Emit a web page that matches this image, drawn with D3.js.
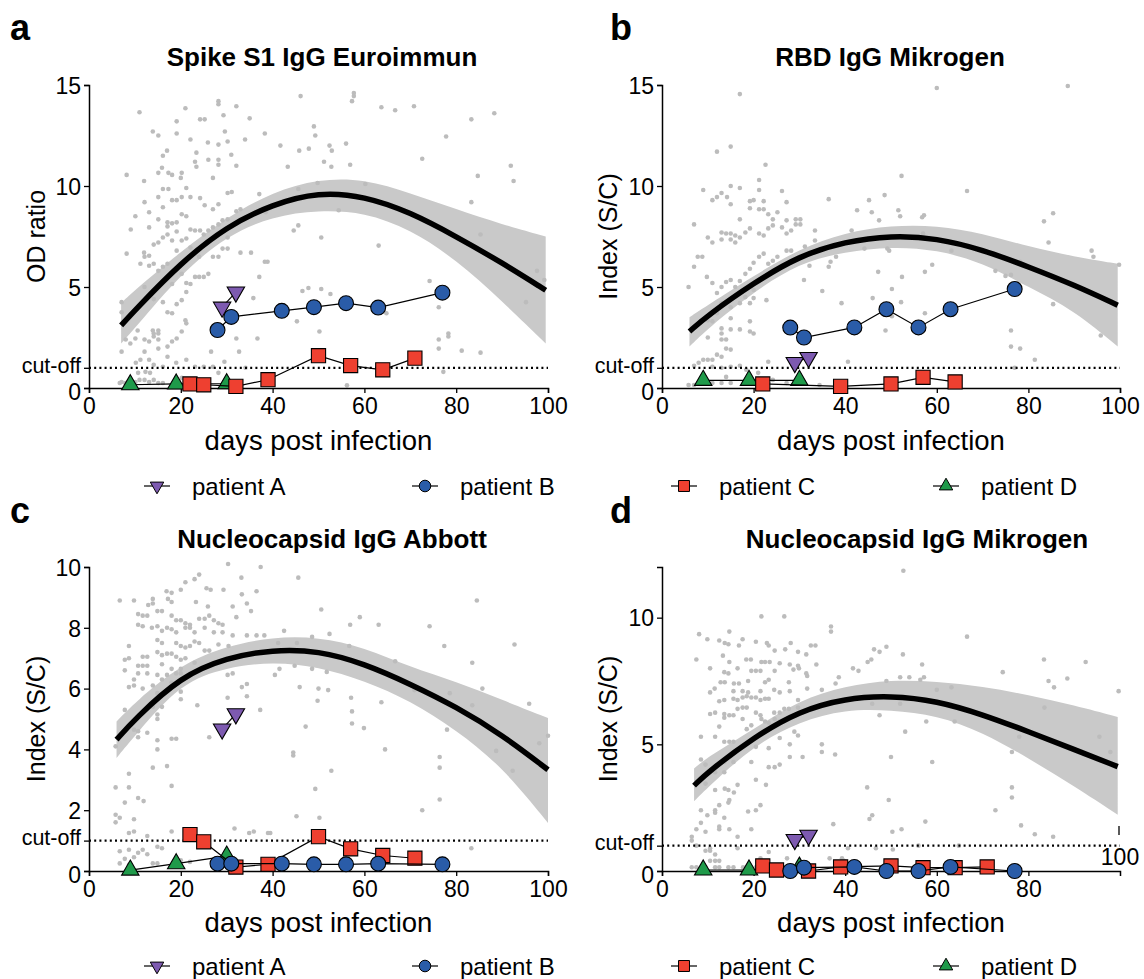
<!DOCTYPE html>
<html><head><meta charset="utf-8">
<script src="https://cdn.jsdelivr.net/npm/d3@7"></script>
<style>body{margin:0;background:#fff}svg{display:block;font-family:"Liberation Sans",Arial,sans-serif}</style>
</head><body><svg id="c" width="1144" height="979"></svg>
<script>
// ---------------- DATA ----------------
const panelLetters = ["a","b","c","d"];
const panelTitles = ["Spike S1 IgG Euroimmun","RBD IgG Mikrogen","Nucleocapsid IgG Abbott","Nucleocapsid IgG Mikrogen"];
const yLabels = ["OD ratio","Index (S/C)","Index (S/C)","Index (S/C)"];
const xLabel = "days post infection";
const cutoffLabel = "cut-off";
const cutoffValues = [1.0, 1.0, 1.0, 1.0];
const yMax = [15, 15, 10, 12];
const yTicks = [[0,5,10,15],[0,5,10,15],[0,2,4,6,8,10],[0,5,10]];
const xTicksFull = [0,20,40,60,80,100];
const xTicksD = [0,20,40,60,80];
const patientNames = ["patient A","patient B","patient C","patient D"];

// fitted curve and confidence band
const fitDaysA = [7,10,20,30,40,50,60,70,80,90,99.5];
const fitA  = [3.1,3.85,6.2,8.0,9.1,9.7,9.5,8.7,7.5,6.2,4.84];
const upperA= [4.2,4.85,6.75,8.45,9.7,10.35,10.35,9.65,8.85,8.1,7.5];
const lowerA= [2.2,2.95,5.65,7.55,8.5,8.8,8.7,7.85,6.35,4.3,2.2];
const fitDaysB = [6,10,20,30,40,50,60,70,80,90,99.5];
const fitB  = [2.8,3.6,5.2,6.55,7.25,7.55,7.42,6.85,6.0,5.1,4.1];
const upperB= [3.5,4.1,5.55,6.9,7.7,8.05,8.05,7.65,7.0,6.5,6.15];
const lowerB= [2.05,2.95,4.75,6.2,6.75,7.0,6.85,6.2,5.0,3.85,2.05];
const fitDaysC = [6,10,20,30,40,50,60,70,80,90,100];
const fitC  = [4.32,5.0,6.4,7.02,7.28,7.25,6.82,6.15,5.4,4.48,3.33];
const upperC= [4.92,5.55,6.8,7.4,7.7,7.7,7.36,6.7,6.23,5.63,5.03];
const lowerC= [3.72,4.45,6.2,6.7,6.88,6.72,6.26,5.6,4.64,3.44,1.58];
const fitDaysD = [7,10,20,30,40,50,60,70,80,90,99.5];
const fitD  = [3.37,3.9,5.28,6.32,6.82,6.92,6.72,6.18,5.5,4.8,4.12];
const upperD= [4.05,4.5,5.6,6.75,7.3,7.55,7.48,7.28,6.95,6.54,6.08];
const lowerD= [2.75,3.3,4.95,5.9,6.38,6.35,6.15,5.48,4.45,3.35,2.22];

// patients [day, value]
const patAa = [[29,4.0],[32,4.75]];
const patBa = [[28,2.87],[31,3.52],[42,3.82],[49,4.0],[56,4.2],[63,3.98],[77,4.72]];
const patCa = [[22,0.2],[25,0.16],[32,0.08],[39,0.41],[50,1.6],[57,1.11],[64,0.9],[71,1.48]];
const patDa = [[9,0.16],[19,0.2],[30,0.21]];
const patAb = [[29,1.26],[32,1.51]];
const patBb = [[28,2.99],[31,2.5],[42,3.0],[49,3.9],[56,3.0],[63,3.9],[77,4.9]];
const patCb = [[22,0.2],[39,0.08],[50,0.2],[57,0.53],[64,0.3]];
const patDb = [[9,0.38],[19,0.38],[30,0.38]];
const patAc = [[29,4.67],[32,5.17]];
const patBc = [[28,0.24],[31,0.24],[42,0.24],[49,0.22],[56,0.22],[63,0.24],[77,0.22]];
const patCc = [[22,1.2],[25,0.96],[32,0.13],[39,0.22],[50,1.13],[57,0.73],[64,0.51],[71,0.42]];
const patDc = [[9,0.03],[19,0.24],[30,0.49]];
const patAd = [[29,1.24],[32,1.41]];
const patBd = [[28,0.0],[31,0.13],[42,0.16],[49,0.0],[56,0.0],[63,0.16],[77,0.0]];
const patCd = [[22,0.2],[25,0.04],[32,0.0],[39,0.16],[50,0.2],[57,0.13],[64,0.13],[71,0.16]];
const patDd = [[9,0.04],[19,0.04],[30,0.15]];

// grey individual measurements [day, value]
const dotsA = [[11,13.65],[13.9,12.7],[15.1,12.5],[16.1,11.5],[17,11.75],[15.9,10.9],[15.1,10.65],[17.3,10.65],[18.1,10.55],[20.2,10.65],[19.1,13.2],[19.1,12.6],[21,13.85],[22.1,12.3],[24.2,13.3],[25.2,13.3],[28.2,14.2],[28.2,14.05],[29.3,13.5],[32.1,13.95],[29.6,12.7],[30.2,12.2],[28.2,12.05],[25.9,12.15],[23.4,11.65],[23.1,11.2],[23.4,10.95],[26,11.3],[28.2,11.3],[31,11.55],[32.1,11],[35,13.35],[34,12.3],[38.3,12.6],[41.7,12],[45.8,11.75],[47.9,11.85],[49,12.95],[49.3,12.5],[46.1,14.45],[52.4,12],[52.9,11.75],[56,12.1],[51.2,11.2],[52.8,10.95],[56.9,11.05],[57.3,14.2],[57.7,14.6],[57.7,14.45],[63.7,13.9],[66.7,13.75],[70.8,13.95],[72.6,11.35],[77.8,12.45],[83.3,13.3],[88.3,13.6],[91.9,11],[92.5,10.25],[84.7,10.5],[83.3,9.2],[85.3,7.6],[97.6,5.8],[99.2,5.35],[95.2,4.25],[43.3,10.95],[37.1,9.6],[38.5,8.7],[45.6,9.85],[45.6,8.05],[44.6,7.8],[50.6,7.45],[54.4,8.8],[60.2,10.1],[49.8,10.15],[63.1,7.05],[38.3,6.25],[38.9,6.25],[35.3,6.7],[33,6.7],[37.1,5.5],[35.8,4.45],[46.5,4.8],[47.8,4.95],[50.6,4.9],[52.6,4.65],[45.3,3.3],[50.2,2.8],[64.8,3.7],[74.2,5.3],[76.2,4],[76.2,2.4],[76.2,1.95],[78.3,2.7],[78.3,2.55],[81.2,1.85],[85.3,1.75],[77.2,0.8],[56.2,0.13],[36.7,2.45],[32.1,2.45],[32.7,1.8],[34.1,1.0],[29.5,1.3],[26.6,1.8],
[8.2,10.55],[8.2,6.65],[9.1,7.85],[10.1,8.5],[7.1,4.25],[7.1,3.75],[8,2.4],[7.1,1.8],[9,2.2],[10.1,2.45],[10.6,2.85],[12,10.25],[12.1,9.2],[13.1,8.7],[13.1,7.95],[12,6.7],[12.1,6.5],[13.1,6.55],[13.1,6.05],[11.2,6.15],[12.1,5],[14.1,7.1],[15.1,7.2],[15.1,8.35],[16.1,8.95],[17.1,8.2],[17.1,8],[18.1,8.15],[19.1,8.2],[19.1,7.75],[20.2,8.6],[21.2,8.5],[22.1,7.85],[23.1,7.8],[24.2,7.8],[25,7.6],[26,7.8],[27,7.95],[28.2,8.1],[29.1,8.3],[30.2,8.35],[16.1,7.45],[17.1,7.6],[18.1,7.3],[19.1,6.8],[20.2,7.3],[21.2,7.4],[22.1,6.95],[23.1,6.65],[24,6.5],[19.1,9.3],[18.1,9.3],[20.2,9.45],[21.2,9.9],[22.1,9.45],[24.2,9.4],[25.2,9.05],[27,8.85],[28.2,9.1],[30.2,9.65],[31.1,9.7],[27,10.4],[28.2,11.05],[17.3,9.85],[16.1,9.85],[15.1,9.45],[20,10.4],[14.1,6.15],[15.1,5.8],[16.1,6],[17.1,6.15],[18.1,5.15],[20.2,5.65],[21.2,5.2],[22.1,5.15],[23.1,5.5],[24,5.5],[25,5.5],[26,5.65],[27,6.5],[28.2,6.5],[29.1,6.9],[30.2,6.9],[32.1,8.75],[33,8.85],[30.2,7.45],[14.1,4.4],[16.1,4.25],[17.1,3.75],[18.1,3.7],[19.1,4.15],[20.2,4.35],[21.2,4.75],[21,3.35],[21.2,3.2],[13.9,2.85],[14.1,2.7],[15.1,2.85],[15.1,2.7],[14.1,2.55],[15.1,2.4],[12.1,2.4],[13.1,2.3],[15.1,1.95],[17.1,2.05],[18.1,2.3],[19.1,2.45],[20.2,2.8],[12.1,1.8],[11.2,1.4],[10.2,1.25],[13.1,1.4],[14.1,1.15],[16.1,1.05],[17.1,1.55],[19,1.25],[21.2,1.4],[23.1,1.05],[25,1.05],[27,1.05],[9.1,0.4],[10.1,0.3],[11,0.4],[12.1,0.4],[13.1,0.3],[14.1,0.4],[15.1,0.25],[16.1,0.25],[7.1,0.3],[7.9,0.25],[12.3,0.8],[10.7,0.75],[13.3,0.75],[20.2,0.5],[24,0.4],[28.2,0.75],[6.7,0.25]];

const dotsB = [[17,14.55],[60,14.85],[88.6,14.95],[15,11.95],[12,11.7],[22.6,11.05],[52.3,10.5],[21.2,10.3],[15,10],[17,9.9],[9,9.8],[21.2,9.8],[26.2,9.75],[66.6,9.75],[48.6,9.55],[13,9.65],[14.2,9.45],[12,9.45],[11,9.3],[19.2,9.25],[20,9.3],[22.2,9.25],[36.4,9.35],[45.2,9.3],[15,9.1],[19.2,8.9],[21.2,8.85],[22.2,8.85],[23.2,8.6],[24.2,8.35],[25.2,8.7],[27.2,9.2],[51.6,8.8],[52,8.5],[45.8,8.7],[42.6,8.8],[85.4,8.65],[83.4,8.25],[17,8.35],[7,8.1],[26.2,7.95],[27.2,8.3],[29.2,8.35],[30.2,8.35],[29.2,8.1],[30.2,8.1],[28.2,7.8],[27.2,7.65],[23.2,7.9],[24.2,8.05],[22.2,7.55],[21.2,7.65],[19.2,7.9],[18.2,7.7],[17,7.45],[16,7.55],[15,7.65],[14,7.65],[13,7.7],[13,7.35],[15,7.35],[16,7.2],[10,7.45],[11,7.2],[47.4,8.3],[56.8,8.45],[57.2,8.55],[57,7.65],[41.4,7.8],[44.2,6.9],[38,6.5],[36.8,6.25],[36.4,6],[32.2,6.05],[31.2,7],[33.4,7.8],[33.4,7.3],[49.2,6.9],[49.6,6.8],[63.2,6.8],[84.4,7.2],[93.8,6.8],[94.2,6.5],[99.8,6.1],[59,6.1],[52.4,5.5],[57.4,5.75],[47.2,5.75],[72.8,5.8],[75,5.55],[76.2,5.6],[78.2,6.25],[31,5.35],[35,4.8],[50.2,4.9],[46,4.45],[39.2,4.2],[52.2,4.25],[85.4,4.15],[95.8,2.6],[76.2,2.85],[76.2,2.05],[78.2,1.95],[81.4,1.4],[77,1],[57.4,3.7],[48.8,2.85],[50.2,3.55],[40.6,1.3],[34.4,0.15],[23.2,1.3],[5.8,5],[7,6],[7.8,6.5],[8.8,6.5],[9.8,5.5],[11,5.2],[12,4.7],[13,5],[14,5.25],[15,5.35],[16,5],[17,5.3],[18.2,5.65],[19.2,5.9],[20,6.2],[21.2,6.5],[22.2,6.65],[23.2,6.15],[24.2,6.3],[25.2,6.5],[27.2,6.8],[28.2,6.8],[20,4.85],[18.2,4.5],[17,4.2],[15,4],[13,4.2],[19.2,4.2],[20,4.45],[22.8,4.35],[15,3.45],[12,3.7],[10,3.35],[11,3.3],[13,2.95],[13,2.7],[15,2.9],[17,2.9],[19.2,3.3],[19.2,2.8],[20,2.7],[10,2.5],[13,2.4],[14,2.4],[15,1.9],[14,1.95],[12,1.65],[10,1.4],[9,1.4],[11,1.4],[8,1.25],[7,1.1],[13,1.55],[11,1.05],[13,1],[15,1.05],[17,1.1],[18.4,0.9],[5.8,0.15],[7,0.15],[8.8,0.25],[11,0.25],[13,0.25],[15,0.25],[14,0.55],[21,0.75],[24.2,0.4],[27.2,0.25]];

const dotsC = [[30.3,10.1],[37.4,10.0],[24,9.75],[23,9.6],[45.6,9.65],[33.2,9.65],[21,9.5],[25.6,9.3],[26.5,9.25],[29.3,9.25],[20,9.25],[33.3,9.1],[36.5,9.2],[16.9,9.2],[18,9.15],[6.7,8.9],[9.8,8.9],[13.9,8.95],[13.9,8.8],[12.9,8.75],[17.2,8.95],[18,8.85],[23.3,8.85],[25.9,8.7],[31.3,8.7],[35.3,8.55],[34.4,8.8],[84.5,8.9],[10.7,8.45],[11.7,8.4],[12.7,8.4],[14.9,8.55],[15.9,8.55],[18,8.4],[19,8.25],[20,8.25],[21,8.15],[22,8.1],[24,8.3],[25.2,8.3],[26.2,8.4],[27.2,8.25],[28.2,8.15],[29.1,8.1],[32.1,8.35],[50.6,8.6],[59,8.35],[63.1,8.1],[56.9,8.1],[74.2,8.05],[10.7,8.1],[11.7,8.05],[13.7,8],[14.9,8.05],[15.9,7.9],[17,8],[18,7.95],[19,7.85],[21,8],[22,8],[23,7.85],[25.2,8],[27.2,7.85],[29.1,7.85],[31.3,7.75],[34.4,7.75],[36.5,7.75],[38.2,7.75],[42.5,7.9],[48.6,7.7],[52.4,7.8],[8.7,7.4],[14.9,7.6],[15.9,7.5],[19,7.5],[20,7.4],[21,7.35],[22,7.4],[23,7.55],[24,7.5],[25.2,7.25],[26.2,7.25],[28.2,7.45],[30.4,7.4],[41.2,7.5],[45.3,7.5],[56.7,7.4],[77.4,7.4],[92.7,7.45],[7.8,6.95],[8.7,7],[11.7,7.05],[12.7,7.05],[14.9,7.2],[15.9,7.1],[17,7.15],[18,7.15],[19,7.05],[20,6.95],[21,7],[10.7,6.75],[11.7,6.75],[12.7,6.75],[15.9,6.8],[18,6.65],[20,6.65],[23,6.85],[7.8,6.6],[10.7,6.5],[12.7,6.5],[14.9,6.45],[17,6.45],[19,6.5],[20,6.5],[30.2,6.45],[31.3,6.5],[40.5,6.45],[41.5,6.65],[44.8,6.75],[48.6,6.65],[51.8,6.55],[66.7,6.9],[83.5,6.85],[9.8,6.3],[15.9,6.3],[18,6.2],[8.7,6.05],[9.8,6.1],[11.7,6],[13.9,6.1],[14.9,5.85],[17,5.95],[20,5.9],[20,5.65],[30.2,5.7],[33.3,6.05],[34.4,6.15],[34.4,5.75],[45.9,6.05],[49.8,5.6],[50,6],[52.1,5.95],[57.1,5.7],[63.7,5.55],[70.9,5.95],[78.6,5.85],[85.7,6],[83.5,5.45],[95.9,5.5],[7.8,5.3],[13.9,5.4],[14.9,5.15],[14.9,5],[15.9,5.4],[23.6,5.45],[37.3,5.3],[57.3,5.25],[57.3,4.85],[59.9,4.7],[47.2,4.75],[78,4.65],[98.1,4.2],[100,4.45],[9.8,4.65],[10.7,4.6],[10.7,4.4],[12.7,4.55],[14.9,4.3],[14.9,4],[18,4.35],[19,4.35],[26.2,4.4],[5.8,4.1],[13.9,3.4],[17,3.45],[44.5,3.9],[44.5,3.8],[64.5,4],[76.4,3.75],[76.4,3.4],[88.7,3.95],[92.3,3.3],[52.8,3.3],[5.8,2.75],[8.7,3.2],[8.7,2.75],[18,2.8],[10.7,2.4],[11.9,2.3],[7.8,2.25],[49.3,2.7],[72.6,2.0],[76.4,2.35],[5.8,1.85],[6.7,1.75],[5.8,1.6],[9.8,1.7],[45.2,1.8],[50.2,1.75],[31.7,1.4],[34.9,1.25],[35.9,1.3],[39,1.25],[39.5,1.25],[8.7,1.25],[9.8,1.3],[12.7,1.15],[18,1.3],[6.7,0.65],[8.7,0.7],[10.7,0.6],[11.7,0.7],[12.7,0.55],[14.9,0.8],[15.9,0.75],[9.8,0.45],[7.8,0.4],[6.7,0.25],[8.7,0.2],[13.9,0.25],[14.9,0.25],[20,0.35],[22,0.3],[83.3,0.75]];

const dotsD = [[52.7,11.85],[21.7,10.05],[26.7,10.05],[36.9,9.65],[36.9,9.45],[66.6,9.25],[8.1,9.35],[14.7,9.45],[9.9,9.15],[12.5,9.1],[13.7,9],[14.5,8.95],[16.8,8.9],[17.6,9.15],[20.5,9.05],[22.9,9],[23.3,8.9],[24.6,8.7],[26.9,8.75],[28.1,9],[31.5,8.55],[29.7,8.65],[32.5,8.9],[33.5,8.9],[18.4,8.35],[19.4,8.35],[21.7,8.25],[22.5,8.25],[23.5,8.25],[25.7,8.2],[27.9,8.15],[29.7,8.1],[33.7,8.15],[13.3,8.5],[14.7,8.25],[7.5,8.35],[10.5,8],[13.6,7.85],[14.5,7.8],[16.5,8],[19.5,7.9],[20.5,7.9],[21.5,7.9],[24.6,7.9],[28.7,7.95],[29.9,8],[31.5,7.8],[31.7,7.7],[41.7,8],[42.9,7.9],[44.9,8.25],[45.7,8.35],[47.5,8.65],[49,8.85],[46.3,8.75],[52.6,8.55],[56.8,8.15],[74.4,7.85],[83.4,8.35],[92.5,8.25],[88.5,7.6],[84.4,7.5],[85.6,7.25],[99.7,7.1],[60,7.15],[63.2,7.25],[56.4,7.55],[57.2,7.65],[49,7.5],[52,7.65],[54,7.65],[38.6,7.65],[37.9,7.4],[34.9,7.15],[31.7,7.2],[12.8,7.45],[13.7,7.45],[15.7,7.4],[16.8,7.4],[18.8,7.5],[23.3,7.55],[22.5,7.45],[27.7,7.45],[11.5,7.2],[10.5,7.05],[15.6,7.1],[17.6,7.1],[18.8,7.05],[21.5,7.1],[24.5,7.15],[25.7,7.05],[27.9,7.1],[12.5,6.7],[13.6,6.75],[15.6,6.8],[16.5,6.75],[17.6,6.85],[18.5,6.9],[19.5,6.85],[20.5,6.85],[21.5,6.75],[22.5,6.8],[23.3,6.8],[16.5,6.4],[17.6,6.45],[18.5,6.45],[13.6,6.2],[14.7,6.15],[15.6,6.15],[10.5,6.2],[11.6,6.25],[20.5,6.25],[21.5,6.15],[24.5,6.25],[25.7,6.25],[26.7,6.4],[27.7,6.4],[29.7,6.45],[12.5,5.7],[13.6,6.05],[17.6,6],[18.5,5.6],[19.5,5.75],[21.7,6],[22.5,5.9],[23.3,5.85],[24.6,6],[25.7,5.9],[29.7,6.75],[45.9,6.6],[47.5,6.15],[52,6.6],[63.2,6.55],[83.5,6.45],[57.7,5.9],[63.9,5.9],[78,5.3],[95.5,5.3],[97.9,4.7],[92.1,4.6],[53.1,5.5],[8.5,5.3],[13.6,5.1],[14.7,5.1],[15.6,5.1],[11.6,5.3],[20.5,4.9],[23.3,4.85],[27.9,5],[28.9,5.5],[29.7,5.35],[25.7,5.25],[34.9,5],[34.9,4.7],[37.8,4.6],[30.7,4.5],[27.9,4.5],[50,4.5],[59,4.3],[76.4,4.7],[8.5,4.4],[9.5,4.2],[13.6,4.3],[15.6,4.3],[19.5,4.3],[23.3,4.1],[24.6,4.1],[25.7,4.2],[9.5,3.45],[11.6,3.9],[13.6,3.9],[16.5,3.4],[20.5,3.6],[22.7,3.4],[13.7,3.25],[11.6,3.2],[14.5,3.2],[15.7,3.1],[14.5,2.7],[14.7,2.8],[12.5,2.6],[20.5,2.4],[21.5,2.6],[18.8,2.35],[8.5,2.4],[11.6,2.4],[11.6,2.3],[8.5,1.9],[9.9,2.2],[13.6,2.1],[7.5,1.65],[9.5,1.55],[12.5,1.75],[12.5,1.65],[14.7,1.65],[19.5,1.65],[16.5,1.35],[6.5,1.35],[6.5,1.2],[44.8,3.3],[49.5,2.8],[45.9,2.2],[45.3,2.05],[37.4,1.85],[50.3,1.55],[52.3,1.65],[57.5,1.95],[72.8,2.4],[76.4,3.3],[76.4,2.9],[78.4,1.8],[81.4,1.45],[85.4,1.35],[7.5,1],[9.5,0.8],[10.5,0.9],[10.5,0.8],[11.6,0.65],[10.5,0.4],[11.6,0.4],[12.5,0.4],[16.5,0.9],[21.5,0.5],[23.3,0.75],[27.3,0.5],[36.6,0.5],[39.3,0.5],[39.7,0.4],[40.6,0.9],[46.7,0.9],[50.4,0.85],[56,1],[64.8,1],[6.5,0.15],[7.5,0.15],[9.5,0.15],[11.6,0.15],[12.5,0.15],[14.5,0.15],[15.6,0.15],[17.7,0.15],[20.5,0.15]];

// ---------------- DRAW ----------------
const svg = d3.select("#c");
const FONT = "'Liberation Sans', Arial, sans-serif";
const colors = {A:"#7d5ab0", B:"#2a5ca8", C:"#ee4030", D:"#1f9a4a"};
const layouts = [
  {x0:89, x1:548, y0:388, y1:85,  letterX:10, letterY:40, titleX:322, titleY:66, ylabX:36, xlabY:450},
  {x0:662,x1:1120,y0:388, y1:85,  letterX:610,letterY:40, titleX:890, titleY:66, ylabX:608,xlabY:450},
  {x0:89, x1:548, y0:871, y1:567, letterX:10, letterY:523,titleX:332, titleY:548,ylabX:36, xlabY:932},
  {x0:662,x1:1120,y0:871, y1:567, letterX:610,letterY:523,titleX:917, titleY:548,ylabX:608,xlabY:932}
];
const fits = [
  [fitDaysA,fitA,upperA,lowerA],[fitDaysB,fitB,upperB,lowerB],
  [fitDaysC,fitC,upperC,lowerC],[fitDaysD,fitD,upperD,lowerD]];
const dots = [dotsA,dotsB,dotsC,dotsD];
const pats = [[patAa,patBa,patCa,patDa],[patAb,patBb,patCb,patDb],[patAc,patBc,patCc,patDc],[patAd,patBd,patCd,patDd]];

function sym(k, size){
  if(k==="B") return d3.symbol(d3.symbolCircle, size)();
  if(k==="C") return d3.symbol(d3.symbolSquare, size*1.15)();
  return d3.symbol(d3.symbolTriangle, size*0.75)();
}
const curve = d3.curveBasis;

layouts.forEach((L,i)=>{
  const x = d3.scaleLinear().domain([0,100]).range([L.x0,L.x1]);
  const y = d3.scaleLinear().domain([0,yMax[i]]).range([L.y0,L.y1]);
  const g = svg.append("g");
  const [fd,fv,fu,fl] = fits[i];
  const band = d3.area().x((d,j)=>x(fd[j])).y0((d,j)=>y(fl[j])).y1((d,j)=>y(fu[j])).curve(curve);
  g.append("path").attr("d",band(fd)).attr("fill","#c9c9c9");
  g.selectAll("circle.dot").data(dots[i]).join("circle").attr("class","dot")
    .attr("cx",d=>x(d[0])).attr("cy",d=>y(d[1])).attr("r",2.3).attr("fill","#bcbcbc");
  const line = d3.line().x((d,j)=>x(fd[j])).y((d,j)=>y(fv[j])).curve(curve);
  g.append("path").attr("d",line(fd)).attr("fill","none").attr("stroke","#000").attr("stroke-width",5.5);
  // cutoff
  g.append("line").attr("x1",x(0)).attr("x2",x(100)).attr("y1",y(cutoffValues[i])).attr("y2",y(cutoffValues[i]))
    .attr("stroke","#000").attr("stroke-width",2.2).attr("stroke-dasharray","2,3.2");
  // axes
  const isCut = d => d===cutoffValues[i] && !yTicks[i].includes(d);
  const ya = d3.axisLeft(y).tickValues(yTicks[i].concat([cutoffValues[i]])).tickSize(5).tickPadding(3)
    .tickFormat(d=> isCut(d) ? cutoffLabel : d);
  const yg = g.append("g").attr("transform",`translate(${L.x0},0)`).call(ya);
  const xa = d3.axisBottom(x).tickValues(i===3 ? xTicksD : xTicksFull).tickSize(5).tickPadding(5);
  const xg = g.append("g").attr("transform",`translate(0,${L.y0})`).call(xa);
  [yg,xg].forEach(a=>{
    a.selectAll("text").attr("font-size",23).attr("font-family",FONT).attr("fill","#000");
    a.selectAll("line").attr("stroke","#000").attr("stroke-width",1.3);
    a.select(".domain").attr("stroke","#000").attr("stroke-width",1.5);
  });
  yg.selectAll(".tick").each(function(d){
    const t = d3.select(this).select("text");
    if(isCut(d)) t.attr("font-size",21.5).attr("dy","0.2em");
    else if(d===0) t.attr("dy","0.5em");
    else t.attr("dy","0.36em");
  });
  if(i===3){
    // misplaced "100" label as in the reference
    g.append("line").attr("x1",x(100)-1).attr("x2",x(100)-1).attr("y1",826).attr("y2",835).attr("stroke","#000").attr("stroke-width",1.3);
    g.append("text").attr("x",x(100)).attr("y",865).attr("text-anchor","middle").attr("font-size",23).attr("font-family",FONT).text(xTicksFull[5]);
  }
  // patients
  const keys=["A","B","C","D"];
  [3,2,1,0].forEach(p=>{
    const k=keys[p], data=pats[i][p];
    g.append("path").attr("d",d3.line().x(d=>x(d[0])).y(d=>y(d[1]))(data)).attr("fill","none").attr("stroke","#000").attr("stroke-width",1.2);
    g.selectAll(null).data(data).join("path")
      .attr("d",sym(k,175))
      .attr("transform",d=>`translate(${x(d[0])},${y(d[1])})${k==="A"?" rotate(180)":""}`)
      .attr("fill",colors[k]).attr("stroke","#000").attr("stroke-width",1.1);
  });
  // texts
  svg.append("text").attr("x",L.letterX).attr("y",L.letterY).attr("font-size",36).attr("font-weight","bold").attr("font-family",FONT).text(panelLetters[i]);
  svg.append("text").attr("x",L.titleX).attr("y",L.titleY).attr("text-anchor","middle").attr("font-size",26).attr("font-weight","bold").attr("font-family",FONT).text(panelTitles[i]);
  svg.append("text").attr("transform",`translate(${L.ylabX},${(L.y0+L.y1)/2}) rotate(-90)`).attr("text-anchor","middle").attr("dy","0.35em").attr("font-size",25).attr("font-family",FONT).text(yLabels[i]);
  svg.append("text").attr("x",(L.x0+L.x1)/2).attr("y",L.xlabY).attr("text-anchor","middle").attr("font-size",27.5).attr("font-family",FONT).text(xLabel);
});

// legends
const legendX = [157, 425, 684, 946];
[486, 966].forEach(ly=>{
  ["A","B","C","D"].forEach((k,p)=>{
    const lx = legendX[p];
    svg.append("line").attr("x1",lx-13).attr("x2",lx+13).attr("y1",ly).attr("y2",ly).attr("stroke","#000").attr("stroke-width",1.2);
    svg.append("path").attr("d",sym(k,105)).attr("transform",`translate(${lx},${ly})${k==="A"?" rotate(180)":""}`)
      .attr("fill",colors[k]).attr("stroke","#000").attr("stroke-width",1);
    svg.append("text").attr("x",lx+35).attr("y",ly).attr("dy","0.36em").attr("font-size",24).attr("font-family",FONT).text(patientNames[p]);
  });
});
</script></body></html>
